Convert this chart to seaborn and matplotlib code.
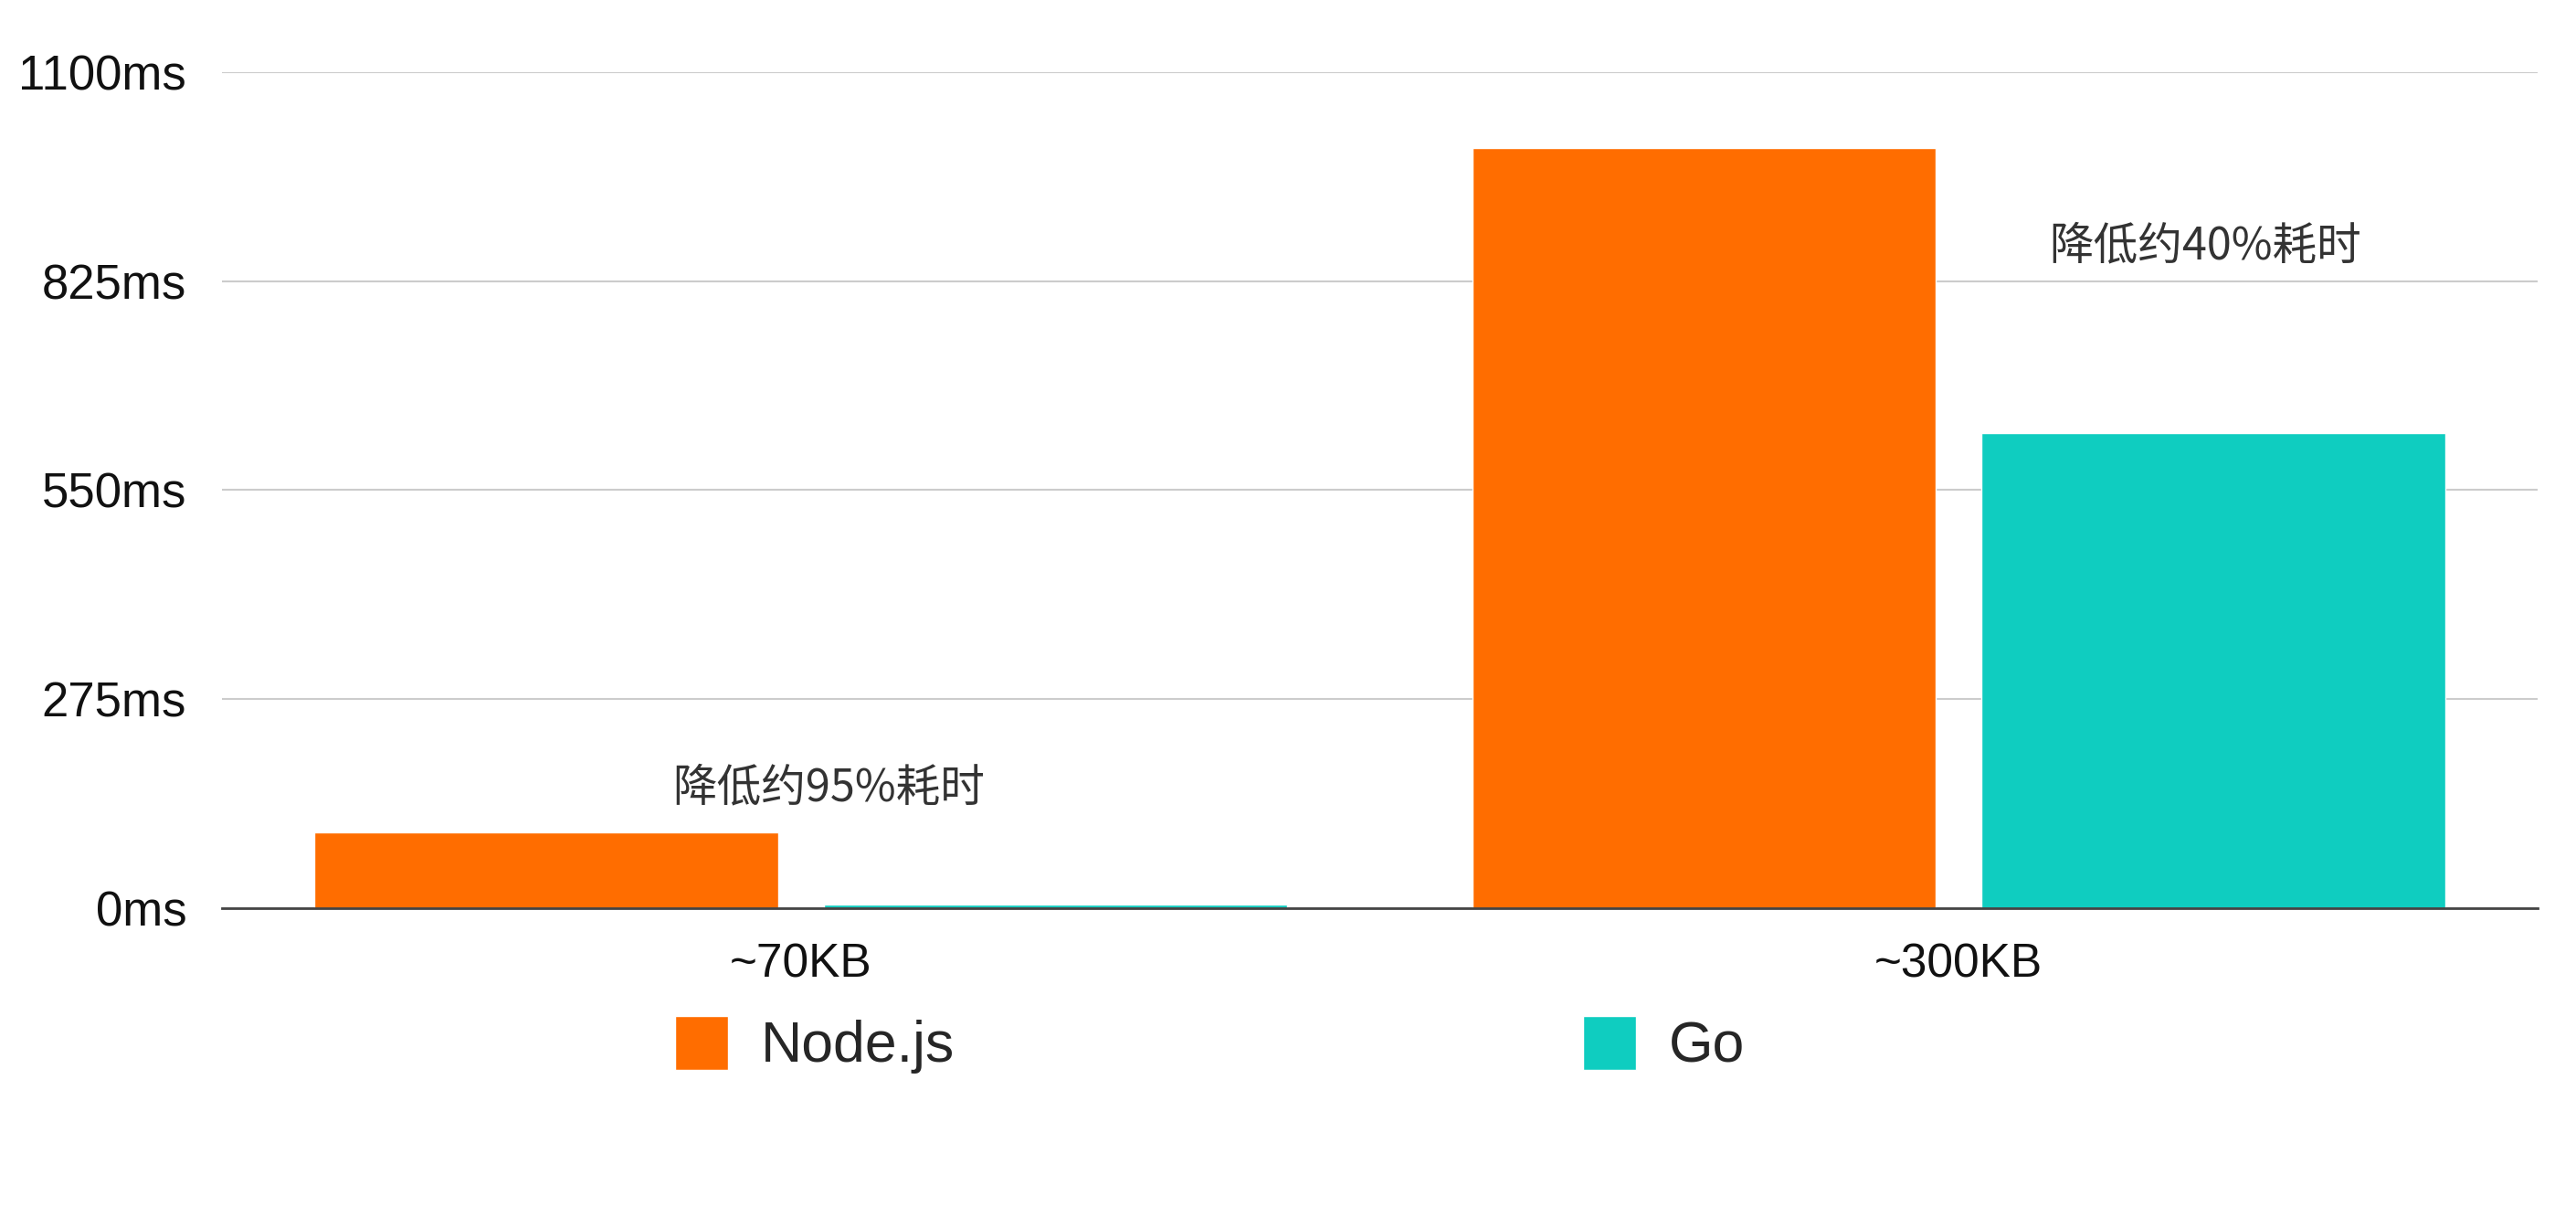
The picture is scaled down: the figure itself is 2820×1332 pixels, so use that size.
import pandas as pd
import matplotlib.pyplot as plt
import seaborn as sns


CATEGORIES = ["~70KB", "~300KB"]
SERIES = ["Node.js", "Go"]
NODE_MS = [100, 1000]
GO_MS = [5, 625]
Y_TICKS = [0, 275, 550, 825, 1100]
NOTES = ["降低约95%耗时", "降低约40%耗时"]
NOTE_X = [0.024, 1.213]
NOTE_Y = [158, 871]
COLORS = ["#FF6D00", "#0FCDC0"]


def main():
	sns.set_theme(style="white")
	plt.rcParams["font.family"] = ["Liberation Sans", "DejaVu Sans"]

	df = pd.DataFrame({
		"size": CATEGORIES * 2,
		"series": [SERIES[0]] * 2 + [SERIES[1]] * 2,
		"ms": NODE_MS + GO_MS,
	})

	fig = plt.figure(figsize=(28.2, 13.32), dpi=100)
	ax = fig.add_axes([0.0862, 0.2538, 0.8988, 0.6869])
	sns.barplot(
		data=df,
		x="size",
		y="ms",
		hue="series",
		hue_order=SERIES,
		palette=COLORS,
		width=0.88,
		gap=0.09,
		saturation=1,
		ax=ax,
		zorder=3
	)
	ax.set_xlim(-0.5, 1.5)
	ax.set_ylim(0, 1100)
	ax.set_yticks(Y_TICKS)
	ax.set_yticklabels([f"{v}ms" for v in Y_TICKS])
	ax.set_xlabel("")
	ax.set_ylabel("")
	ax.yaxis.grid(True, color="#cccccc", linewidth=1.5, zorder=0)
	ax.xaxis.grid(False)
	for side in ["left", "right", "top"]:
		ax.spines[side].set_visible(False)
	ax.spines["bottom"].set_color("#444444")
	ax.spines["bottom"].set_linewidth(2)
	ax.spines["bottom"].set_zorder(4)
	ax.tick_params(axis="y", labelsize=38, pad=28, length=0, labelcolor="#111111")
	ax.tick_params(axis="x", labelsize=37, pad=27, length=0, labelcolor="#111111")

	for x, y, note in zip(NOTE_X, NOTE_Y, NOTES):
		ax.text(
			x, y, note,
			ha="center", va="center",
			fontsize=35, color="#333333",
			family=["Noto Sans CJK SC", "DejaVu Sans"]
		)

	handles, labels = ax.get_legend_handles_labels()
	ax.get_legend().remove()
	fig.legend(
		handles, labels,
		loc="center left",
		bbox_to_anchor=(0.262, 0.1415),
		ncol=2,
		frameon=False,
		fontsize=45,
		handlelength=0.93,
		handleheight=1.08,
		handletextpad=0.58,
		columnspacing=11.0,
		borderpad=0,
		borderaxespad=0
	)

	fig.savefig("out.png", dpi=100)


if __name__ == "__main__":
	main()
